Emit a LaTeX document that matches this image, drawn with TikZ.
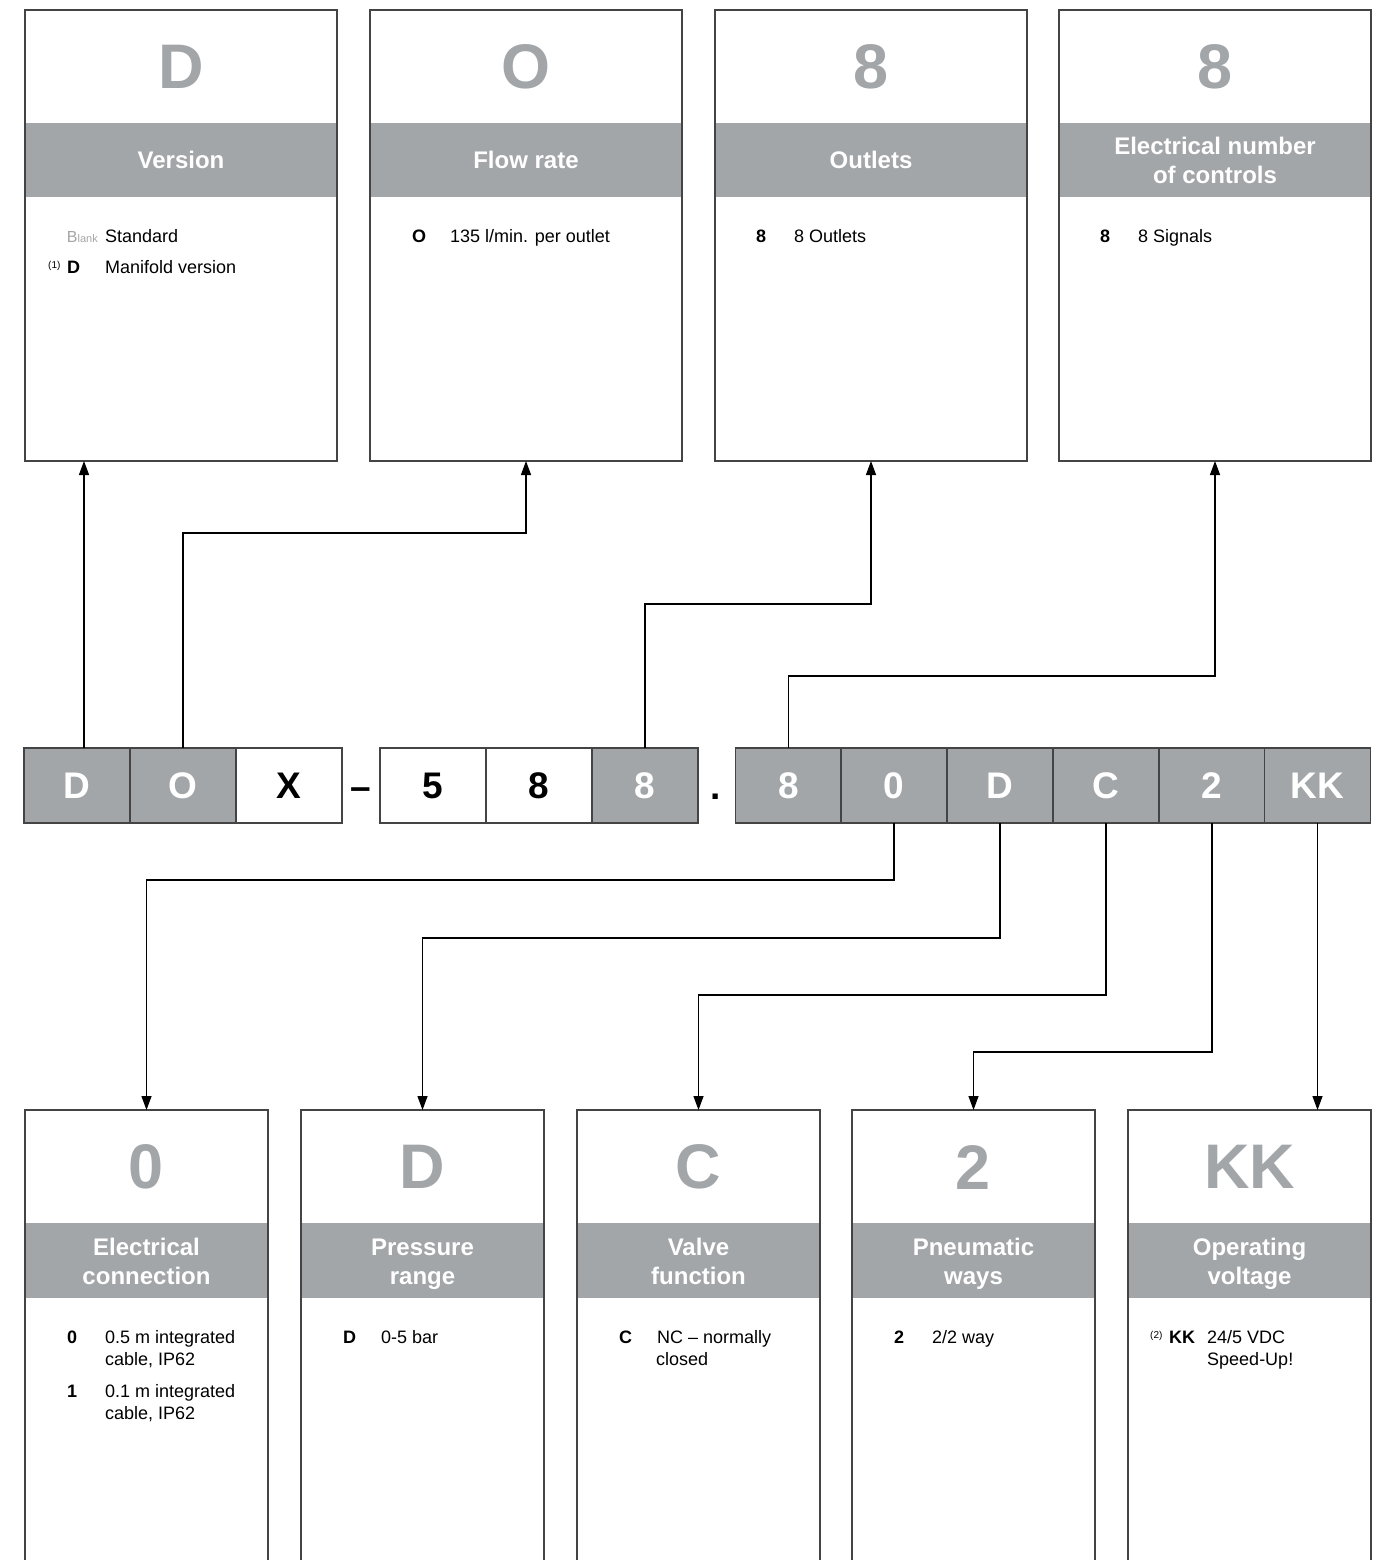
\documentclass[tikz,border=0pt]{standalone}
\usepackage{fontspec}
\setmainfont{Liberation Sans}
\usetikzlibrary{arrows.meta,calc}
\definecolor{bandgray}{RGB}{162,166,169}
\definecolor{framegray}{RGB}{68,68,68}
\definecolor{blankgray}{RGB}{165,165,165}
% one option line: name, x, baseline y, key, text
\newcommand{\optline}[5]{%
	\node[optkey] (#1k) at (#2,#3) {#4};
	\node[opttext] (#1t) at (#2+38,#3) {#5};}

\begin{document}
\begin{tikzpicture}[x=1pt,y=-1pt,
	frame/.style={draw=framegray,line width=1.4pt},
	topbox/.style={frame,anchor=north west,minimum width=312pt,minimum height=451pt,inner sep=0pt,outer sep=0pt},
	botbox/.style={frame,anchor=north west,minimum width=243pt,minimum height=520pt,inner sep=0pt,outer sep=0pt},
	bigletter/.style={text=bandgray,font=\fontsize{63}{63}\selectfont\bfseries},
	bandtitle/.style={text=white,align=center,font=\fontsize{24}{29}\selectfont\bfseries},
	codecell/.style={frame,minimum width=106pt,minimum height=75pt,inner sep=0pt,outer sep=0pt,font=\fontsize{37}{37}\selectfont\bfseries},
	grayc/.style={codecell,fill=bandgray,text=white},
	whitec/.style={codecell,fill=white,text=black},
	sep/.style={anchor=base,inner sep=0pt,font=\fontsize{37}{37}\selectfont\bfseries},
	optkey/.style={anchor=base west,inner sep=0pt,font=\fontsize{18}{22}\selectfont\bfseries},
	opttext/.style={anchor=base west,inner sep=0pt,font=\fontsize{18}{22}\selectfont},
	note/.style={anchor=base west,inner sep=0pt,font=\fontsize{10}{10}\selectfont},
	conn/.style={line width=1.3pt,-{Triangle[length=14pt,width=10pt]}}]
\useasboundingbox (0,0) rectangle (1382,1560);
\clip (0,0) rectangle (1382,1560);
% upper boxes
\foreach \bx/\nm/\ltr/\ttl in {25/tVer/D/Version, 370/tFlow/O/{Flow rate}, 715/tOut/8/Outlets, 1059/tSig/8/{Electrical number\\of controls}}{
	\fill[bandgray] (\bx,123) rectangle ++(312,74);
	\node[topbox] (\nm) at (\bx,10) {};
	\node[bigletter] (\nm-big) at (\bx+156,67) {\ltr};
	\node[bandtitle] (\nm-title) at (\bx+156,163) {\strut\ttl\strut};
}
% lower boxes
\foreach \bx/\nm/\ltr/\ttl in {25/bCon/0/{Electrical\\connection}, 301/bPre/D/{Pressure\\range}, 577/bVal/C/{Valve\\function}, 852/bWay/2/{Pneumatic\\ways}, 1128/bVolt/KK/{Operating\\voltage}}{
	\fill[bandgray] (\bx,1223) rectangle ++(243,75);
	\node[botbox] (\nm) at (\bx,1110) {};
	\node[bigletter] (\nm-big) at (\bx+121.5,1167) {\ltr};
	\node[bandtitle] (\nm-title) at (\bx+121.5,1264) {\strut\ttl\strut};
}
% type code
\foreach \cx/\nm/\txt/\sty in {77/cD/D/grayc, 183/cO/O/grayc, 289/cX/X/whitec, 433/c5/5/whitec, 539/c8a/8/whitec, 645/c8b/8/grayc, 788.5/c8c/8/grayc, 894/c0/0/grayc, 1000/cDd/D/grayc, 1106/cC/C/grayc, 1212/c2/2/grayc, 1317.5/cKK/KK/grayc}
	\node[\sty] (\nm) at (\cx,785.5) {\txt};
\node[sep] (dash) at (361,799) {--};
\node[sep] (dot) at (716,799) {.};
% connectors
\coordinate (dUp) at ([xshift=7pt]cD.north);
\draw[conn] (dUp) -- (dUp |- tVer.south);
\draw[conn] (cO.north) -- ++(0,-215) -| (tFlow.south);
\draw[conn] (c8b.north) -- ++(0,-144) -| (tOut.south);
\draw[conn] (c8c.north) -- ++(0,-72) -| (tSig.south);
\draw[conn] (c0.south) -- ++(0,57) -| (bCon.north);
\draw[conn] (cDd.south) -- ++(0,115) -| (bPre.north);
\draw[conn] (cC.south) -- ++(0,172) -| (bVal.north);
\draw[conn] (c2.south) -- ++(0,229) -| (bWay.north);
\draw[conn] (cKK.south) -- (cKK.south |- bVolt.north);
% options
\node[anchor=base east,inner sep=0pt,text=blankgray] (vBlank) at (98,242) {\fontsize{16}{16}\selectfont B\fontsize{11}{11}\selectfont lank};
\node[opttext] (vSt) at (105,242) {Standard};
\node[note] (n1) at (48,268) {(1)};
\optline{vD}{67}{273}{D}{Manifold version}
\optline{fO}{412}{242}{O}{135 l/min. per outlet}
\optline{o8}{756}{242}{8}{8 Outlets}
\optline{s8}{1100}{242}{8}{8 Signals}
\optline{e0}{67}{1343}{0}{0.5 m integrated}
\node[opttext] (e0t2) at (105,1365) {cable, IP62};
\optline{e1}{67}{1397}{1}{0.1 m integrated}
\node[opttext] (e1t2) at (105,1419) {cable, IP62};
\optline{pD}{343}{1343}{D}{0-5 bar}
\optline{vC}{619}{1343}{C}{NC -- normally}
\node[opttext] (vCt2) at (656,1365) {closed};
\optline{w2}{894}{1343}{2}{2/2 way}
\node[note] (n2) at (1150,1338) {(2)};
\optline{uKK}{1169}{1343}{KK}{24/5 VDC}
\node[opttext] (uKKt2) at (1207,1365) {Speed-Up!};
\end{tikzpicture}
\end{document}
